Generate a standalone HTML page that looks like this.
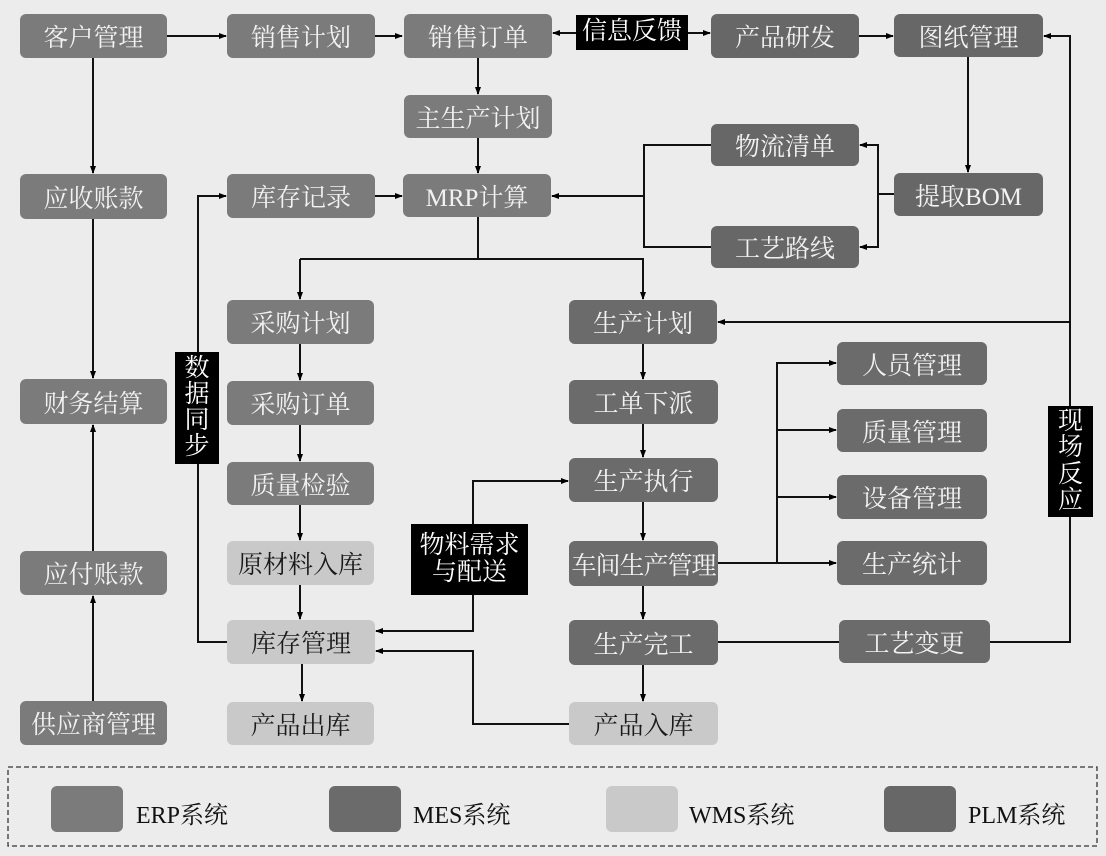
<!DOCTYPE html>
<html><head><meta charset="utf-8"><style>
html,body{margin:0;padding:0}
body{width:1106px;height:856px;background:#ececec;position:relative;overflow:hidden;font-family:"Liberation Serif","Noto Serif CJK SC",serif}
.b{position:absolute;border-radius:6px;color:#f2f2f2;font-size:25px;display:flex;align-items:center;justify-content:center;white-space:nowrap;letter-spacing:0px}
.e{background:#7b7b7b}.m{background:#6b6b6b}.w{background:#c9c9c9;color:#1a1a1a}.p{background:#676767}
.k{position:absolute;background:#000;color:#fff;font-size:25px;display:flex;align-items:center;justify-content:center;text-align:center;line-height:1.05}
svg{position:absolute;left:0;top:0}
.lg{position:absolute;font-size:24px;color:#111;top:795px}
.sw{position:absolute;top:786px;width:72px;height:46px;border-radius:6px}
</style></head><body>
<svg width="1106" height="856">
<defs><marker id="a" markerWidth="8" markerHeight="8" refX="7" refY="4" orient="auto" markerUnits="userSpaceOnUse"><path d="M0,1 L8,4 L0,7z" fill="#000"/></marker></defs>
<g stroke="#111" stroke-width="2" fill="none">
<line x1="167" y1="36" x2="226" y2="36" marker-end="url(#a)"/>
<line x1="375" y1="36" x2="402" y2="36" marker-end="url(#a)"/>
<line x1="576" y1="33" x2="553" y2="33" marker-end="url(#a)"/>
<line x1="688" y1="33" x2="710" y2="33" marker-end="url(#a)"/>
<line x1="859" y1="36" x2="893" y2="36" marker-end="url(#a)"/>
<line x1="478" y1="58" x2="478" y2="94" marker-end="url(#a)"/>
<line x1="478" y1="138" x2="478" y2="173" marker-end="url(#a)"/>
<line x1="375" y1="196" x2="402" y2="196" marker-end="url(#a)"/>
<line x1="968" y1="57" x2="968" y2="172" marker-end="url(#a)"/>
<polyline points="894,194 878,194 878,145 860,145" marker-end="url(#a)"/>
<polyline points="878,194 878,247 860,247" marker-end="url(#a)"/>
<polyline points="711,145 644,145 644,247 711,247"/>
<line x1="644" y1="196" x2="552" y2="196" marker-end="url(#a)"/>
<polyline points="478,217 478,259"/>
<polyline points="300,259 643,259 643,299" marker-end="url(#a)"/>
<polyline points="300,259 300,299" marker-end="url(#a)"/>
<line x1="93" y1="58" x2="93" y2="173" marker-end="url(#a)"/>
<line x1="93" y1="219" x2="93" y2="378" marker-end="url(#a)"/>
<line x1="93" y1="551" x2="93" y2="425" marker-end="url(#a)"/>
<line x1="93" y1="701" x2="93" y2="596" marker-end="url(#a)"/>
<polyline points="227,642 198,642 198,196 226,196" marker-end="url(#a)"/>
<line x1="300" y1="344" x2="300" y2="380" marker-end="url(#a)"/>
<line x1="300" y1="425" x2="300" y2="461" marker-end="url(#a)"/>
<line x1="300" y1="505" x2="300" y2="540" marker-end="url(#a)"/>
<line x1="300" y1="585" x2="300" y2="619" marker-end="url(#a)"/>
<line x1="302" y1="664" x2="302" y2="701" marker-end="url(#a)"/>
<line x1="643" y1="344" x2="643" y2="379" marker-end="url(#a)"/>
<line x1="643" y1="424" x2="643" y2="457" marker-end="url(#a)"/>
<line x1="643" y1="502" x2="643" y2="540" marker-end="url(#a)"/>
<line x1="643" y1="586" x2="643" y2="619" marker-end="url(#a)"/>
<line x1="643" y1="665" x2="643" y2="701" marker-end="url(#a)"/>
<polyline points="473,524 473,481 568,481" marker-end="url(#a)"/>
<polyline points="473,595 473,631 376,631" marker-end="url(#a)"/>
<polyline points="569,724 473,724 473,651 376,651" marker-end="url(#a)"/>
<line x1="718" y1="563" x2="836" y2="563" marker-end="url(#a)"/>
<polyline points="777,563 777,363 836,363" marker-end="url(#a)"/>
<line x1="777" y1="430" x2="836" y2="430" marker-end="url(#a)"/>
<line x1="777" y1="497" x2="836" y2="497" marker-end="url(#a)"/>
<line x1="718" y1="642" x2="839" y2="642"/>
<polyline points="990,642 1070,642 1070,36 1044,36" marker-end="url(#a)"/>
<line x1="1070" y1="322" x2="718" y2="322" marker-end="url(#a)"/>
</g>
<rect x="8" y="767" width="1089" height="79" fill="none" stroke="#333" stroke-width="1.3" stroke-dasharray="5,3"/>
</svg>

<div class="b e" style="left:20px;top:14px;width:147px;height:44px">客户管理</div>
<div class="b e" style="left:227px;top:14px;width:148px;height:44px">销售计划</div>
<div class="b e" style="left:404px;top:14px;width:148px;height:44px">销售订单</div>
<div class="k" style="left:576px;top:15px;width:112px;height:35px">信息反馈</div>
<div class="b p" style="left:711px;top:14px;width:148px;height:44px">产品研发</div>
<div class="b p" style="left:894px;top:14px;width:149px;height:43px">图纸管理</div>
<div class="b e" style="left:404px;top:95px;width:148px;height:43px">主生产计划</div>
<div class="b p" style="left:711px;top:124px;width:148px;height:42px">物流清单</div>
<div class="b e" style="left:20px;top:174px;width:147px;height:45px">应收账款</div>
<div class="b e" style="left:227px;top:174px;width:148px;height:44px">库存记录</div>
<div class="b e" style="left:403px;top:174px;width:148px;height:43px">MRP计算</div>
<div class="b p" style="left:894px;top:173px;width:149px;height:43px">提取BOM</div>
<div class="b p" style="left:711px;top:226px;width:148px;height:42px">工艺路线</div>
<div class="b e" style="left:227px;top:300px;width:147px;height:44px">采购计划</div>
<div class="b m" style="left:569px;top:300px;width:148px;height:44px">生产计划</div>
<div class="k" style="left:175px;top:352px;width:44px;height:112px;flex-direction:column">数<br>据<br>同<br>步</div>
<div class="b m" style="left:837px;top:342px;width:150px;height:43px">人员管理</div>
<div class="b e" style="left:20px;top:379px;width:147px;height:45px">财务结算</div>
<div class="b e" style="left:227px;top:381px;width:147px;height:44px">采购订单</div>
<div class="b m" style="left:569px;top:380px;width:149px;height:44px">工单下派</div>
<div class="k" style="left:1048px;top:406px;width:45px;height:111px">现<br>场<br>反<br>应</div>
<div class="b m" style="left:837px;top:409px;width:150px;height:43px">质量管理</div>
<div class="b e" style="left:227px;top:462px;width:147px;height:43px">质量检验</div>
<div class="b m" style="left:569px;top:458px;width:149px;height:44px">生产执行</div>
<div class="b m" style="left:837px;top:475px;width:150px;height:44px">设备管理</div>
<div class="k" style="left:411px;top:524px;width:117px;height:71px">物料需求<br>与配送</div>
<div class="b w" style="left:227px;top:541px;width:147px;height:44px">原材料入库</div>
<div class="b m" style="left:569px;top:541px;width:149px;height:45px;letter-spacing:-1px">车间生产管理</div>
<div class="b m" style="left:837px;top:541px;width:150px;height:44px">生产统计</div>
<div class="b e" style="left:20px;top:551px;width:147px;height:44px">应付账款</div>
<div class="b w" style="left:227px;top:620px;width:148px;height:44px">库存管理</div>
<div class="b m" style="left:569px;top:620px;width:149px;height:45px">生产完工</div>
<div class="b m" style="left:839px;top:620px;width:151px;height:43px">工艺变更</div>
<div class="b w" style="left:227px;top:702px;width:147px;height:43px">产品出库</div>
<div class="b w" style="left:569px;top:702px;width:149px;height:43px">产品入库</div>
<div class="b e" style="left:20px;top:701px;width:147px;height:44px">供应商管理</div>

<div class="sw" style="left:51px;background:#7b7b7b"></div><div class="lg" style="left:136px">ERP系统</div>
<div class="sw" style="left:329px;background:#6b6b6b"></div><div class="lg" style="left:413px">MES系统</div>
<div class="sw" style="left:606px;background:#c9c9c9"></div><div class="lg" style="left:689px">WMS系统</div>
<div class="sw" style="left:884px;background:#676767"></div><div class="lg" style="left:968px">PLM系统</div>
</body></html>
